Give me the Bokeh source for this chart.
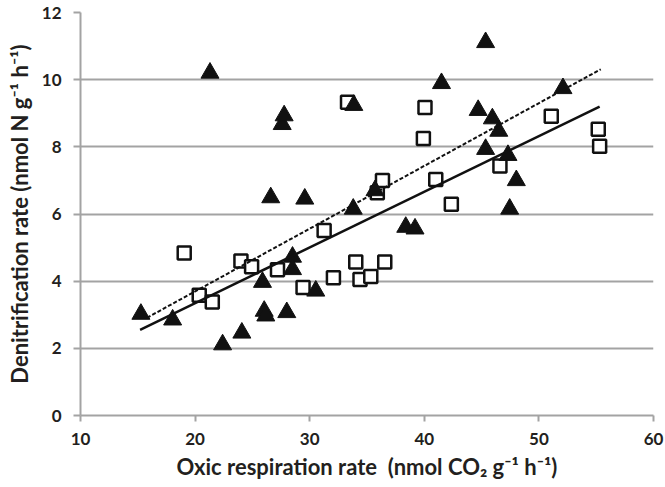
from bokeh.plotting import figure
from bokeh.models import Range1d, FixedTicker
from bokeh.embed import file_html
from bokeh.resources import INLINE

# Filled triangles series
tri_x = [15.27, 18.04, 21.3, 22.4, 24.08, 25.88, 26.03, 26.17, 26.6, 27.6,
         27.77, 28.0, 28.5, 28.5, 29.57, 30.53, 33.85, 33.8, 35.7, 38.38,
         39.19, 41.5, 44.7, 45.35, 45.35, 45.94, 46.5, 47.3, 47.45, 48.03, 52.1]
tri_y = [3.02, 2.85, 10.2, 2.11, 2.46, 3.97, 3.11, 2.97, 6.49, 8.67,
         8.93, 3.07, 4.72, 4.35, 6.45, 3.71, 9.24, 6.15, 6.7, 5.61,
         5.56, 9.89, 9.09, 11.11, 7.93, 8.84, 8.47, 7.75, 6.15, 7.0, 9.74]

# Open squares series
sq_x = [19.05, 20.36, 21.5, 24.0, 24.93, 27.19, 29.42, 31.26, 32.07, 33.3,
        34.02, 34.39, 35.33, 35.9, 36.35, 36.55, 39.92, 40.06, 41.0, 42.36,
        46.6, 51.08, 55.18, 55.3]
sq_y = [4.84, 3.58, 3.38, 4.6, 4.43, 4.34, 3.81, 5.51, 4.1, 9.33,
        4.57, 4.05, 4.14, 6.63, 7.0, 4.57, 8.25, 9.17, 7.03, 6.29,
        7.43, 8.91, 8.52, 8.02]

# Trend lines (end points)
solid_x = [15.2, 55.3]
solid_y = [2.55, 9.2]
dash_x = [15.8, 55.4]
dash_y = [2.91, 10.31]

x_ticks = [10, 20, 30, 40, 50, 60]
y_ticks = [0, 2, 4, 6, 8, 10, 12]

x_label = "Oxic respiration rate \u00a0(nmol CO\u2082 g\u207b\u00b9 h\u207b\u00b9)"
y_label = "Denitrification rate (nmol N g\u207b\u00b9 h\u207b\u00b9)"

FONT = "Lato"
GRID = "#a3a3a3"
TXT = "#231f20"

p = figure(width=665, height=487, x_range=Range1d(10, 60), y_range=Range1d(0, 12),
           output_backend="svg", toolbar_location=None,
           min_border_left=80, min_border_right=12, min_border_top=12, min_border_bottom=72)
p.outline_line_color = None
p.background_fill_color = "white"
p.border_fill_color = "white"
p.xgrid.visible = False
p.ygrid.grid_line_color = GRID
p.ygrid.grid_line_width = 2
p.ygrid.ticker = FixedTicker(ticks=y_ticks)

for ax in (p.xaxis[0], p.yaxis[0]):
    ax.axis_line_color = GRID
    ax.axis_line_width = 2
    ax.major_tick_line_color = GRID
    ax.major_tick_line_width = 2
    ax.major_tick_in = 0
    ax.minor_tick_line_color = None
    ax.major_label_text_font = FONT
    ax.major_label_text_font_style = "bold"
    ax.major_label_text_font_size = "17px"
    ax.major_label_text_color = TXT
    ax.axis_label_text_font = FONT
    ax.axis_label_text_font_style = "bold"
    ax.axis_label_text_font_size = "22px"
    ax.axis_label_text_color = TXT

p.xaxis.ticker = FixedTicker(ticks=x_ticks)
p.yaxis.ticker = FixedTicker(ticks=y_ticks)
p.xaxis.major_tick_out = 6
p.yaxis.major_tick_out = 7
p.xaxis.major_label_standoff = 11
p.yaxis.major_label_standoff = 12
p.xaxis.axis_label = x_label
p.yaxis.axis_label = y_label
p.xaxis.axis_label_standoff = 5
p.yaxis.axis_label_standoff = 6

p.scatter(sq_x, sq_y, marker="square", size=13, fill_color="white",
          line_color="#111111", line_width=2.5)
p.scatter(tri_x, tri_y, marker="triangle", size=18, fill_color="#111111",
          line_color="#111111", line_width=1)

p.line(solid_x, solid_y, line_color="#111111", line_width=2.5)
p.line(dash_x, dash_y, line_color="#111111", line_width=2, line_dash="4 2")

open("out.html", "w").write(file_html(p, INLINE))
